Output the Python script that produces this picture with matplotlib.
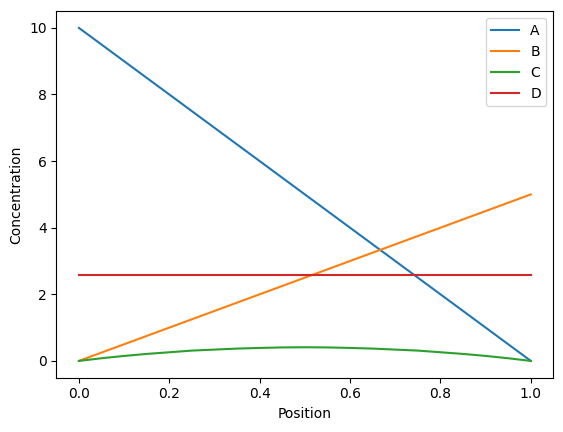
import numpy as np
import matplotlib.pyplot as plt

# values
position = [0.0, 0.05, 0.1, 0.15, 0.2, 0.25, 0.3, 0.35, 0.4, 0.45, 0.5,
            0.55, 0.6, 0.65, 0.7, 0.75, 0.8, 0.85, 0.9, 0.95, 1.0]
conc_a = [10.0, 9.5, 9.0, 8.5, 8.0, 7.5, 7.0, 6.5, 6.0, 5.5, 5.0,
          4.5, 4.0, 3.5, 3.0, 2.5, 2.0, 1.5, 1.0, 0.5, 0.0]
conc_b = [0.0, 0.25, 0.5, 0.75, 1.0, 1.25, 1.5, 1.75, 2.0, 2.25, 2.5,
          2.75, 3.0, 3.25, 3.5, 3.75, 4.0, 4.25, 4.5, 4.75, 5.0]
conc_c = [0.0, 0.08, 0.15, 0.21, 0.26, 0.31, 0.34, 0.37, 0.39, 0.405, 0.41,
          0.405, 0.39, 0.37, 0.34, 0.31, 0.26, 0.21, 0.15, 0.08, 0.0]
conc_d = [2.57] * 21

fig, ax = plt.subplots(figsize=(5.63, 4.32), dpi=100)
ax.plot(position, conc_a, label='A')
ax.plot(position, conc_b, label='B')
ax.plot(position, conc_c, label='C')
ax.plot(position, conc_d, label='D')
ax.set_xlabel('Position')
ax.set_ylabel('Concentration')
ax.legend(loc='upper right')
fig.subplots_adjust(left=0.100, right=0.983, bottom=0.126, top=0.974)
plt.savefig('out.png', dpi=100)
